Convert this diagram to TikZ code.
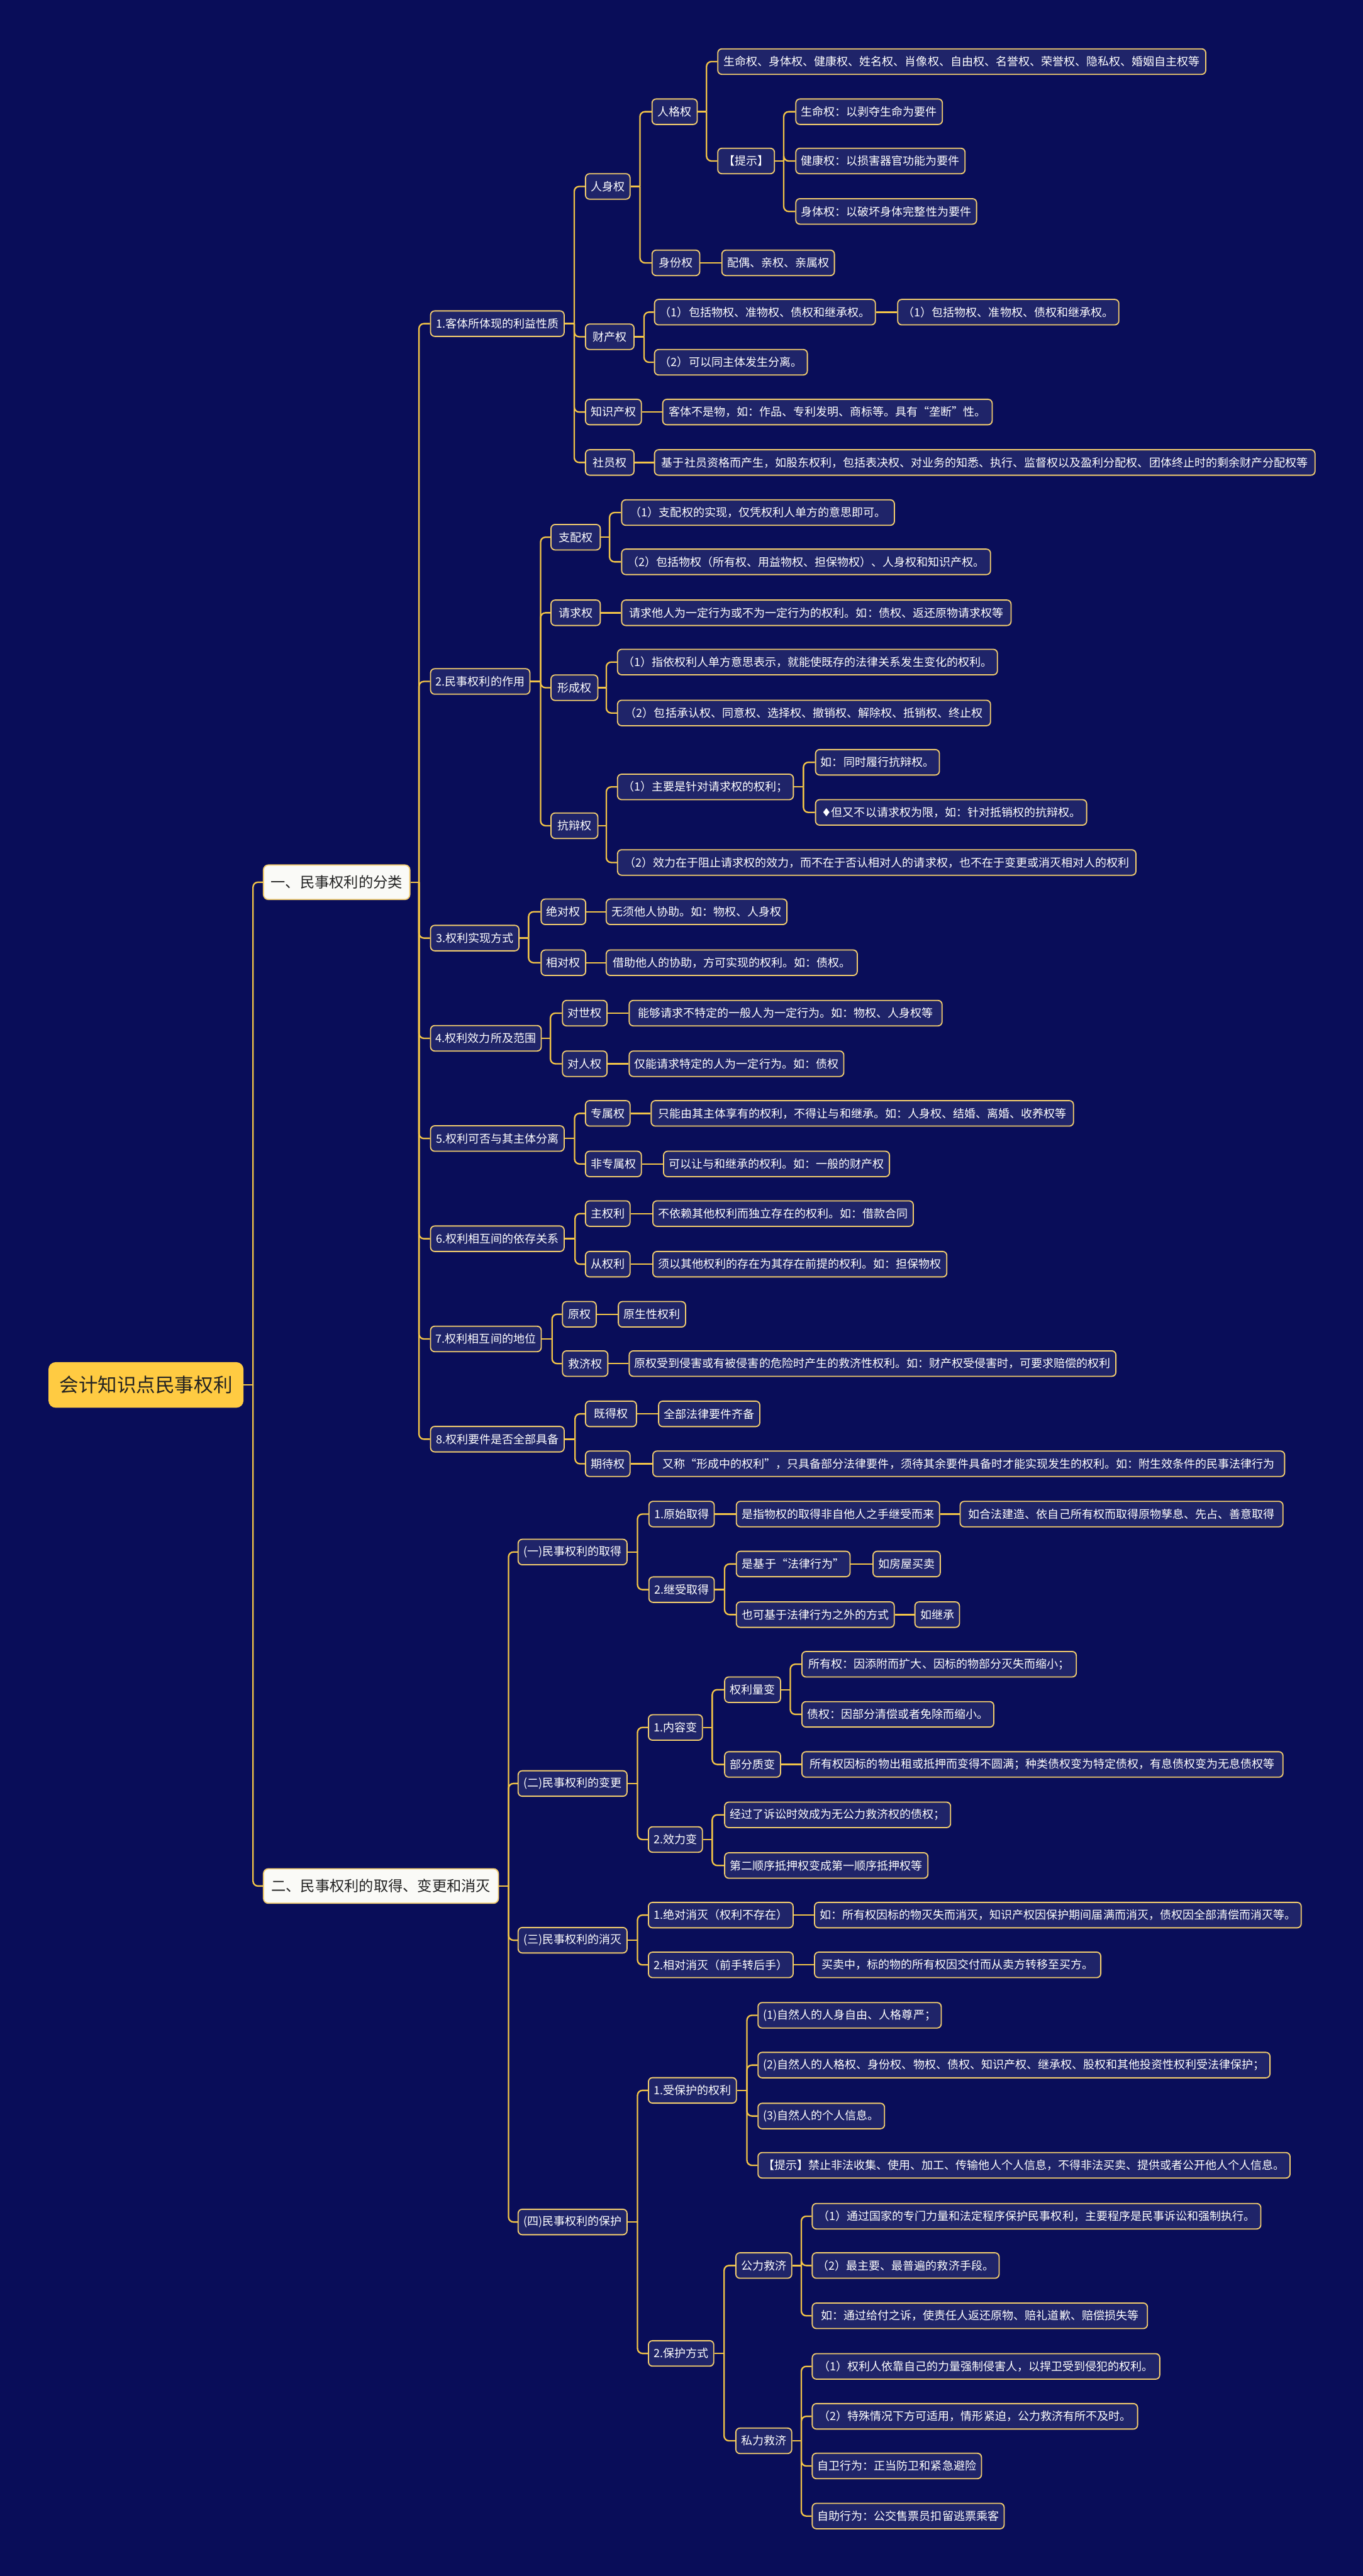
\documentclass[tikz,border=0pt]{standalone}
\usepackage{fontspec}
\newfontfamily\cjk{Noto Sans CJK SC}
\newfontfamily\dejavu{DejaVu Sans}
\definecolor{bg}{RGB}{9,13,89}
\definecolor{boxc}{RGB}{31,36,105}
\definecolor{gold}{RGB}{243,205,110}
\definecolor{linec}{RGB}{242,196,72}
\definecolor{rootc}{RGB}{255,203,66}
\definecolor{whitebox}{RGB}{250,250,247}
\definecolor{darktext}{RGB}{34,34,34}
\tikzset{
 box/.style={anchor=west, rounded corners=2.5pt, inner xsep=3.2pt, inner ysep=0pt, minimum height=15.5pt,
   font={\cjk\fontsize{6.9pt}{8pt}\selectfont}, text=white, fill=boxc, draw=gold, line width=0.7pt},
 lvone/.style={box, fill=whitebox, text=darktext, minimum height=21pt, inner xsep=4.5pt, rounded corners=3pt,
   font={\cjk\fontsize{8.9pt}{10pt}\selectfont}},
 rootbox/.style={box, fill=rootc, draw=rootc, text=darktext, minimum height=27pt, inner xsep=6pt, rounded corners=4pt,
   font={\cjk\fontsize{11.7pt}{13pt}\selectfont}},
 ln/.style={draw=linec, line width=0.9pt},
}
\newcommand\mnode[5]{\node[box,minimum width=#4pt] (#1) at (#2,#3) {#5};}
\newcommand\conkids[3]{\coordinate (sp#1) at (#2,0);
  \draw[ln] (#1.east) -- (#1.east -| sp#1);
  \foreach \kid in {#3}{\draw[ln,rounded corners=3pt] (#1.east -| sp#1) |- (\kid.west);}}
\newcommand\conone[2]{\draw[ln] (#1.east) -- (#2.west);}
\begin{document}
\begin{tikzpicture}[x=1pt,y=-1pt]
\useasboundingbox (0,0) rectangle (829.5,1568);
\fill[bg] (0,0) rectangle (829.5,1568);

\node[rootbox,minimum width=118pt] (R) at (29.5,843) {会计知识点民事权利};
\node[lvone,minimum width=89pt] (A) at (160,537) {一、民事权利的分类};
\node[lvone,minimum width=143pt] (B) at (160,1148) {二、民事权利的取得、变更和消灭};

% level 2 under A
\mnode{a1}{261.7}{197}{81.3}{1.客体所体现的利益性质}
\mnode{a2}{261.7}{414.8}{60.3}{2.民事权利的作用}
\mnode{a3}{261.7}{571}{53.8}{3.权利实现方式}
\mnode{a4}{261.7}{632}{67.3}{4.权利效力所及范围}
\mnode{a5}{261.7}{693}{81.3}{5.权利可否与其主体分离}
\mnode{a6}{261.7}{754}{81.3}{6.权利相互间的依存关系}
\mnode{a7}{261.7}{815}{67.3}{7.权利相互间的地位}
\mnode{a8}{261.7}{876}{81.3}{8.权利要件是否全部具备}

% a1
\mnode{a1a}{356}{113.5}{27}{人身权}
\mnode{a1a1}{396.5}{68}{27.5}{人格权}
\mnode{a1a1a}{436.5}{37.5}{297}{生命权、身体权、健康权、姓名权、肖像权、自由权、名誉权、荣誉权、隐私权、婚姻自主权等}
\mnode{a1a1b}{436.5}{98}{34.5}{【提示】}
\mnode{t1}{484}{68}{89}{生命权：以剥夺生命为要件}
\mnode{t2}{484}{98}{103}{健康权：以损害器官功能为要件}
\mnode{t3}{484}{128.7}{110}{身体权：以破坏身体完整性为要件}
\mnode{a1a2}{396.5}{160}{29}{身份权}
\mnode{a1a2a}{439}{160}{68}{配偶、亲权、亲属权}
\mnode{a1b}{356}{205}{29.5}{财产权}
\mnode{a1b1}{398}{190}{134}{（1）包括物权、准物权、债权和继承权。}
\mnode{a1b1a}{546}{190}{134.6}{（1）包括物权、准物权、债权和继承权。}
\mnode{a1b2}{398}{220.5}{93}{（2）可以同主体发生分离。}
\mnode{a1c}{356}{250.8}{34}{知识产权}
\mnode{a1c1}{403}{250.8}{200.5}{客体不是物，如：作品、专利发明、商标等。具有“垄断”性。}
\mnode{a1d}{356}{281.5}{29.5}{社员权}
\mnode{a1d1}{398}{281.5}{402}{基于社员资格而产生，如股东权利，包括表决权、对业务的知悉、执行、监督权以及盈利分配权、团体终止时的剩余财产分配权等}

% a2
\mnode{a2a}{335}{327}{30}{支配权}
\mnode{a2a1}{378}{312}{166}{（1）支配权的实现，仅凭权利人单方的意思即可。}
\mnode{a2a2}{378}{342}{224.5}{（2）包括物权（所有权、用益物权、担保物权）、人身权和知识产权。}
\mnode{a2b}{335}{373}{30}{请求权}
\mnode{a2b1}{378}{373}{237}{请求他人为一定行为或不为一定行为的权利。如：债权、返还原物请求权等}
\mnode{a2c}{335}{418.6}{28.5}{形成权}
\mnode{a2c1}{375.5}{403}{231.2}{（1）指依权利人单方意思表示，就能使既存的法律关系发生变化的权利。}
\mnode{a2c2}{375.5}{434}{227}{（2）包括承认权、同意权、选择权、撤销权、解除权、抵销权、终止权}
\mnode{a2d}{335}{502.6}{28.5}{抗辩权}
\mnode{a2d1}{375.5}{479}{107}{（1）主要是针对请求权的权利；}
\mnode{a2d1a}{496}{464}{75}{如：同时履行抗辩权。}
\mnode{a2d1b}{496}{494.5}{165}{{\dejavu ♦}但又不以请求权为限，如：针对抵销权的抗辩权。}
\mnode{a2d2}{375.5}{525}{315.5}{（2）效力在于阻止请求权的效力，而不在于否认相对人的请求权，也不在于变更或消灭相对人的权利}

% a3..a8
\mnode{a3a}{329}{555}{26.7}{绝对权}
\mnode{a3a1}{368.6}{555}{110}{无须他人协助。如：物权、人身权}
\mnode{a3b}{329}{586}{26.7}{相对权}
\mnode{a3b1}{368.6}{586}{152.8}{借助他人的协助，方可实现的权利。如：债权。}
\mnode{a4a}{342}{616.7}{27}{对世权}
\mnode{a4a1}{382.6}{616.7}{190.4}{能够请求不特定的一般人为一定行为。如：物权、人身权等}
\mnode{a4b}{342}{647.5}{27}{对人权}
\mnode{a4b1}{382.6}{647.5}{130.4}{仅能请求特定的人为一定行为。如：债权}
\mnode{a5a}{356}{677.7}{27}{专属权}
\mnode{a5a1}{396}{677.7}{257}{只能由其主体享有的权利，不得让与和继承。如：人身权、结婚、离婚、收养权等}
\mnode{a5b}{356}{708.5}{34}{非专属权}
\mnode{a5b1}{403.5}{708.5}{137}{可以让与和继承的权利。如：一般的财产权}
\mnode{a6a}{356}{738.7}{27}{主权利}
\mnode{a6a1}{397}{738.7}{158.5}{不依赖其他权利而独立存在的权利。如：借款合同}
\mnode{a6b}{356}{769.5}{27}{从权利}
\mnode{a6b1}{397}{769.5}{178}{须以其他权利的存在为其存在前提的权利。如：担保物权}
\mnode{a7a}{342}{800}{20.5}{原权}
\mnode{a7a1}{376}{800}{40}{原生性权利}
\mnode{a7b}{342}{830}{27.6}{救济权}
\mnode{a7b1}{382.6}{830}{296}{原权受到侵害或有被侵害的危险时产生的救济性权利。如：财产权受侵害时，可要求赔偿的权利}
\mnode{a8a}{356}{860.6}{31}{既得权}
\mnode{a8a1}{400.5}{860.6}{61.5}{全部法律要件齐备}
\mnode{a8b}{356}{891}{27}{期待权}
\mnode{a8b1}{397}{891}{384.5}{又称“形成中的权利”，只具备部分法律要件，须待其余要件具备时才能实现发生的权利。如：附生效条件的民事法律行为}

% B
\mnode{b1}{315}{944.7}{66}{(一)民事权利的取得}
\mnode{b1a}{394.6}{921.6}{39.4}{1.原始取得}
\mnode{b1a1}{447.8}{921.6}{122.9}{是指物权的取得非自他人之手继受而来}
\mnode{b1a2}{584}{921.6}{196.5}{如合法建造、依自己所有权而取得原物孳息、先占、善意取得}
\mnode{b1b}{394.6}{967.6}{39.4}{2.继受取得}
\mnode{b1b1}{447.8}{952}{69.2}{是基于“法律行为”}
\mnode{b1b1a}{531}{952}{40}{如房屋买卖}
\mnode{b1b2}{447.8}{982.8}{94.7}{也可基于法律行为之外的方式}
\mnode{b1b2a}{556.5}{982.8}{26.5}{如继承}
\mnode{b2}{315}{1085.6}{65.4}{(二)民事权利的变更}
\mnode{b2a}{394.3}{1051.5}{32.4}{1.内容变}
\mnode{b2a1}{440.7}{1028.5}{33.1}{权利量变}
\mnode{b2a1a}{487.7}{1013}{167}{所有权：因添附而扩大、因标的物部分灭失而缩小；}
\mnode{b2a1b}{487.7}{1043.5}{116.1}{债权：因部分清偿或者免除而缩小。}
\mnode{b2a2}{440.7}{1074}{33.1}{部分质变}
\mnode{b2a2a}{487.7}{1074}{292.8}{所有权因标的物出租或抵押而变得不圆满；种类债权变为特定债权，有息债权变为无息债权等}
\mnode{b2b}{394.3}{1119.7}{32.4}{2.效力变}
\mnode{b2b1}{440.7}{1104.7}{136.3}{经过了诉讼时效成为无公力救济权的债权；}
\mnode{b2b2}{440.7}{1135.5}{122.3}{第二顺序抵押权变成第一顺序抵押权等}
\mnode{b3}{315}{1181}{65.4}{(三)民事权利的消灭}
\mnode{b3a}{394.3}{1165.7}{87.7}{1.绝对消灭（权利不存在）}
\mnode{b3a1}{495.4}{1165.7}{295.1}{如：所有权因标的物灭失而消灭，知识产权因保护期间届满而消灭，债权因全部清偿而消灭等。}
\mnode{b3b}{394.3}{1196}{87.7}{2.相对消灭（前手转后手）}
\mnode{b3b1}{495.4}{1196}{174.2}{买卖中，标的物的所有权因交付而从卖方转移至买方。}
\mnode{b4}{315}{1352.5}{65.4}{(四)民事权利的保护}
\mnode{b4a}{394.3}{1272.4}{53.2}{1.受保护的权利}
\mnode{b4a1}{461}{1226.7}{106}{(1)自然人的人身自由、人格尊严；}
\mnode{b4a2}{461}{1257}{310.7}{(2)自然人的人格权、身份权、物权、债权、知识产权、继承权、股权和其他投资性权利受法律保护；}
\mnode{b4a3}{461}{1288}{77}{(3)自然人的个人信息。}
\mnode{b4a4}{461}{1318}{323.7}{【提示】禁止非法收集、使用、加工、传输他人个人信息，不得非法买卖、提供或者公开他人个人信息。}
\mnode{b4b}{394.3}{1432.5}{39.7}{2.保护方式}
\mnode{b4b1}{447.5}{1379}{33.5}{公力救济}
\mnode{g1}{494}{1349}{273}{（1）通过国家的专门力量和法定程序保护民事权利，主要程序是民事诉讼和强制执行。}
\mnode{g2}{494}{1379}{113.7}{（2）最主要、最普遍的救济手段。}
\mnode{g3}{494}{1409.6}{204}{如：通过给付之诉，使责任人返还原物、赔礼道歉、赔偿损失等}
\mnode{b4b2}{447.5}{1485.7}{33.5}{私力救济}
\mnode{p1}{494}{1440.4}{211.5}{（1）权利人依靠自己的力量强制侵害人，以捍卫受到侵犯的权利。}
\mnode{p2}{494}{1470.8}{198}{（2）特殊情况下方可适用，情形紧迫，公力救济有所不及时。}
\mnode{p3}{494}{1501}{103}{自卫行为：正当防卫和紧急避险}
\mnode{p4}{494}{1531.5}{116.5}{自助行为：公交售票员扣留逃票乘客}

% connectors
\conkids{R}{154}{A,B}
\conkids{A}{255}{a1,a2,a3,a4,a5,a6,a7,a8}
\conkids{B}{309.5}{b1,b2,b3,b4}
\conkids{a1}{349.5}{a1a,a1b,a1c,a1d}
\conkids{a1a}{389.5}{a1a1,a1a2}
\conkids{a1a1}{430}{a1a1a,a1a1b}
\conkids{a1a1b}{477}{t1,t2,t3}
\conone{a1a2}{a1a2a}
\conkids{a1b}{392}{a1b1,a1b2}
\conone{a1b1}{a1b1a}
\conone{a1c}{a1c1}
\conone{a1d}{a1d1}
\conkids{a2}{329}{a2a,a2b,a2c,a2d}
\conkids{a2a}{371}{a2a1,a2a2}
\conone{a2b}{a2b1}
\conkids{a2c}{369}{a2c1,a2c2}
\conkids{a2d}{369}{a2d1,a2d2}
\conkids{a2d1}{489}{a2d1a,a2d1b}
\conkids{a3}{321.7}{a3a,a3b}
\conone{a3a}{a3a1}
\conone{a3b}{a3b1}
\conkids{a4}{335}{a4a,a4b}
\conone{a4a}{a4a1}
\conone{a4b}{a4b1}
\conkids{a5}{349.7}{a5a,a5b}
\conone{a5a}{a5a1}
\conone{a5b}{a5b1}
\conkids{a6}{350}{a6a,a6b}
\conone{a6a}{a6a1}
\conone{a6b}{a6b1}
\conkids{a7}{336}{a7a,a7b}
\conone{a7a}{a7a1}
\conone{a7b}{a7b1}
\conkids{a8}{350}{a8a,a8b}
\conone{a8a}{a8a1}
\conone{a8b}{a8b1}
\conkids{b1}{388}{b1a,b1b}
\conone{b1a}{b1a1}
\conone{b1a1}{b1a2}
\conkids{b1b}{441}{b1b1,b1b2}
\conone{b1b1}{b1b1a}
\conone{b1b2}{b1b2a}
\conkids{b2}{388}{b2a,b2b}
\conkids{b2a}{433.5}{b2a1,b2a2}
\conkids{b2a1}{481}{b2a1a,b2a1b}
\conone{b2a2}{b2a2a}
\conkids{b2b}{433.5}{b2b1,b2b2}
\conkids{b3}{388}{b3a,b3b}
\conone{b3a}{b3a1}
\conone{b3b}{b3b1}
\conkids{b4}{388}{b4a,b4b}
\conkids{b4a}{454.6}{b4a1,b4a2,b4a3,b4a4}
\conkids{b4b}{440.7}{b4b1,b4b2}
\conkids{b4b1}{487.7}{g1,g2,g3}
\conkids{b4b2}{487.7}{p1,p2,p3,p4}
\end{tikzpicture}
\end{document}
